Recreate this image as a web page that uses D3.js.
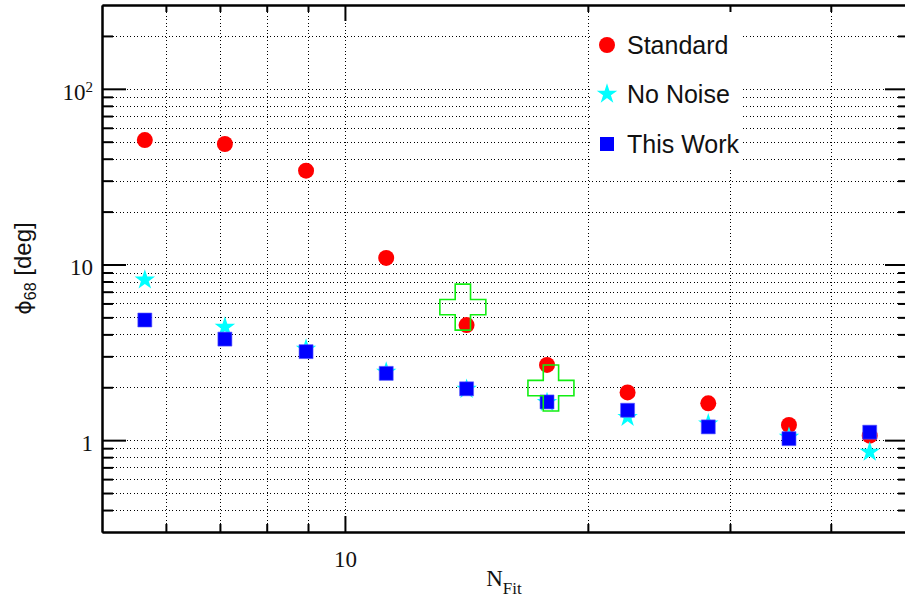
<!DOCTYPE html>
<html>
<head>
<meta charset="utf-8">
<script src="https://cdn.jsdelivr.net/npm/d3@7"></script>
<style>
  body { margin: 0; background: white; }
  svg { display: block; }
</style>
</head>
<body>
<svg id="chart" width="905" height="599"></svg>
<script>
// data
const nFit     = [5.65, 7.1, 8.95, 11.25, 14.15, 17.8, 22.4, 28.2, 35.5, 44.7];
const standard = [51.1, 48.5, 34.2, 10.9, 4.52, 2.68, 1.87, 1.62, 1.22, 1.06];
const noNoise  = [8.17, 4.4, 3.3, 2.44, 1.95, 1.64, 1.35, 1.24, 1.04, 0.855];
const thisWork = [4.83, 3.76, 3.19, 2.40, 1.96, 1.65, 1.48, 1.19, 1.02, 1.11];
const refX     = [14.0, 18.0];
const refY     = [5.72, 1.98];

const xMajor = [10];
const xMinor = [6, 7, 8, 9, 20, 30, 40];
const yMajor = [1, 10, 100];
const yMinor = [0.4, 0.5, 0.6, 0.7, 0.8, 0.9, 2, 3, 4, 5, 6, 7, 8, 9,
                20, 30, 40, 50, 60, 70, 80, 90, 200];
const legendNames = ["Standard", "No Noise", "This Work"];

const svg = d3.select("#chart");

const x = d3.scaleLog().domain([5, 50]).range([102, 909]);
const y = d3.scaleLog().domain([0.3, 300]).range([532, 5]);
const [x0, x1] = x.range();
const [y0, y1] = y.range();
const px = v => Math.round(v) + 0.5;

//GRID
const grid = svg.append("g")
    .attr("stroke", "#000")
    .attr("stroke-width", 1)
    .attr("stroke-dasharray", "1,2.5")
    .attr("shape-rendering", "crispEdges");

grid.selectAll(".vgrid").data(xMajor.concat(xMinor)).enter().append("line")
    .attr("class", "vgrid")
    .attr("x1", d => px(x(d))).attr("x2", d => px(x(d)))
    .attr("y1", y1).attr("y2", y0);

grid.selectAll(".hgrid").data(yMajor.concat(yMinor)).enter().append("line")
    .attr("class", "hgrid")
    .attr("x1", x0).attr("x2", x1)
    .attr("y1", d => px(y(d))).attr("y2", d => px(y(d)));

//LEGEND BOX (white, no border)
svg.append("rect")
    .attr("x", 590).attr("y", 6)
    .attr("width", 150).attr("height", 161)
    .attr("fill", "white");

//MARKERS
const circle = d3.symbol().type(d3.symbolCircle).size(201);
const star = d3.symbol().type(d3.symbolStar).size(130);
const square = d3.symbol().type(d3.symbolSquare).size(196);
const cross = d3.symbol().type(d3.symbolCross).size(1175);

svg.append("g").selectAll("path").data(nFit.map((n, i) => [n, standard[i]])).enter()
    .append("path")
    .attr("d", circle)
    .attr("transform", d => "translate(" + [x(d[0]), y(d[1])] + ")")
    .attr("fill", "#ff0000");

svg.append("g").selectAll("path").data(nFit.map((n, i) => [n, noNoise[i]])).enter()
    .append("path")
    .attr("d", star)
    .attr("transform", d => "translate(" + [x(d[0]), y(d[1])] + ")")
    .attr("fill", "#00ffff");

svg.append("g").selectAll("path").data(nFit.map((n, i) => [n, thisWork[i]])).enter()
    .append("path")
    .attr("d", square)
    .attr("transform", d => "translate(" + [x(d[0]), y(d[1])] + ")")
    .attr("fill", "#0000ff")
    .attr("stroke", "#5a5aff")
    .attr("stroke-width", 0.6);

svg.append("g").selectAll("path").data(refX.map((n, i) => [n, refY[i]])).enter()
    .append("path")
    .attr("d", cross)
    .attr("transform", d => "translate(" + [x(d[0]), y(d[1])] + ")")
    .attr("fill", "none")
    .attr("stroke", "#11ee11")
    .attr("stroke-width", 1.6);

//AXES
function styleAxis(g) {
    g.attr("stroke-width", 2);
    g.select(".domain").attr("stroke-width", 2);
    g.selectAll(".tick line").attr("stroke-width", 2);
}

svg.append("g").attr("transform", `translate(${x0},0)`)
    .call(d3.axisLeft(y).tickValues(yMinor).tickSize(-11).tickSizeOuter(0).tickFormat(""))
    .call(styleAxis);
svg.append("g").attr("transform", `translate(${x1},0)`)
    .call(d3.axisRight(y).tickValues(yMinor).tickSize(-11).tickSizeOuter(0).tickFormat(""))
    .call(styleAxis);
svg.append("g").attr("transform", `translate(${x1},0)`)
    .call(d3.axisRight(y).tickValues(yMajor).tickSize(-24).tickSizeOuter(0).tickFormat(""))
    .call(styleAxis);

const yLeft = svg.append("g").attr("transform", `translate(${x0},0)`)
    .call(d3.axisLeft(y).tickValues(yMajor).tickSize(-24).tickSizeOuter(0).tickPadding(9)
        .tickFormat(d => d === 100 ? "10" : String(d)))
    .call(styleAxis);
yLeft.selectAll(".tick text")
    .attr("font-family", "'Liberation Serif', 'Times New Roman', serif")
    .attr("font-size", 23)
    .attr("fill", "#111")
    .attr("dy", "0.45em")
    .each(function(d) {
        if (d === 100) {
            d3.select(this).append("tspan")
                .attr("font-size", 15)
                .attr("dy", -8)
                .text("2");
        }
    });

svg.append("g").attr("transform", `translate(0,${y1})`)
    .call(d3.axisTop(x).tickValues(xMinor).tickSize(-7).tickSizeOuter(0).tickFormat(""))
    .call(styleAxis);
svg.append("g").attr("transform", `translate(0,${y1})`)
    .call(d3.axisTop(x).tickValues(xMajor).tickSize(-16).tickSizeOuter(0).tickFormat(""))
    .call(styleAxis);
svg.append("g").attr("transform", `translate(0,${y0})`)
    .call(d3.axisBottom(x).tickValues(xMinor).tickSize(-8).tickSizeOuter(0).tickFormat(""))
    .call(styleAxis);

const xBottom = svg.append("g").attr("transform", `translate(0,${y0})`)
    .call(d3.axisBottom(x).tickValues(xMajor).tickSize(-16).tickSizeOuter(0).tickPadding(19)
        .tickFormat(d => String(d)))
    .call(styleAxis);
xBottom.selectAll(".tick text")
    .attr("font-family", "'Liberation Serif', 'Times New Roman', serif")
    .attr("font-size", 23)
    .attr("fill", "#111");

//AXIS TITLES
const xTitle = svg.append("text")
    .attr("x", 504).attr("y", 586)
    .attr("text-anchor", "middle")
    .attr("font-family", "'Liberation Serif', 'Times New Roman', serif")
    .attr("font-size", 23)
    .attr("fill", "#111");
xTitle.append("tspan").text("N");
xTitle.append("tspan").attr("font-size", 17).attr("dy", 8).text("Fit");

const yTitle = svg.append("text")
    .attr("transform", "translate(31,268.5) rotate(-90)")
    .attr("text-anchor", "middle")
    .attr("font-family", "'Liberation Sans', Arial, sans-serif")
    .attr("font-size", 24)
    .attr("fill", "#111");
yTitle.append("tspan").attr("font-family", "'DejaVu Sans', sans-serif").attr("font-size", 22).text("ϕ");
yTitle.append("tspan").attr("font-size", 16).attr("dy", 5).text("68");
yTitle.append("tspan").attr("dy", -5).text(" [deg]");

//LEGEND
const legendSymbols = [
    { shape: circle, color: "#ff0000" },
    { shape: star, color: "#00ffff" },
    { shape: square, color: "#0000ff" }
];
const legendY = [45, 94, 144];

const legend = svg.append("g").selectAll(".legend").data(legendNames).enter().append("g")
    .attr("class", "legend")
    .attr("transform", (d, i) => "translate(" + [607, legendY[i]] + ")");

legend.append("path")
    .attr("d", (d, i) => legendSymbols[i].shape())
    .attr("fill", (d, i) => legendSymbols[i].color);

legend.append("text")
    .attr("x", 20).attr("y", 8.5)
    .attr("font-family", "'Liberation Sans', Arial, sans-serif")
    .attr("font-size", 25)
    .attr("fill", "#111")
    .text(d => d);
</script>
</body>
</html>
